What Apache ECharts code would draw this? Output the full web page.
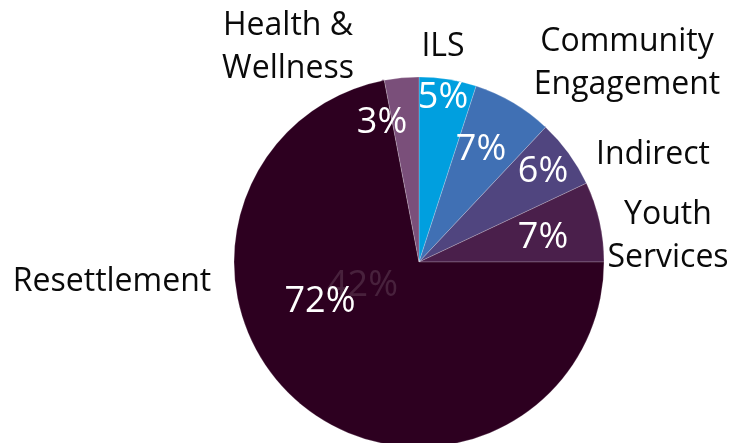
<!DOCTYPE html>
<html>
<head>
<meta charset="utf-8">
<script src="https://cdn.jsdelivr.net/npm/echarts@6/dist/echarts.min.js"></script>
<style>
  html, body { margin: 0; padding: 0; background: #fff; }
  #chart { width: 747px; height: 443px; }
</style>
</head>
<body>
<div id="chart"></div>
<script>
// slice data, clockwise from 12 o'clock
var names = ["ILS", "Community\nEngagement", "Indirect", "Youth\nServices", "Resettlement", "Health &\nWellness"];
var values = [5, 7, 6, 7, 72, 3];
var colors = ["#009FDF", "#4070B4", "#50457F", "#4A1F4B", "#2D0020", "#7A4F7A"];

// label spots (x, y)
var namePos = [[443, 47], [627, 63], [653, 155], [668, 236], [112, 282], [288, 47]];
var pctPos = [[443, 98], [481, 150], [543, 172], [543, 238], [320, 302], [382, 123]];

var myChart = echarts.init(document.getElementById("chart"));

var pieData = names.map(function (n, i) {
  return { name: n, value: values[i], itemStyle: { color: colors[i] } };
});

var option = {
  animation: false,
  textStyle: { fontFamily: "Open Sans" },
  graphic: [
    {
      type: "text",
      left: 327,
      top: 268,
      z: 100,
      style: {
        text: "42%",
        fontFamily: "Open Sans",
        fontSize: 36,
        fill: "rgba(255,255,255,0.13)"
      }
    }
  ],
  series: [
    {
      type: "pie",
      center: [419, 262],
      radius: [0, 185],
      startAngle: 90,
      clockwise: true,
      data: pieData,
      itemStyle: { borderColor: "rgba(255,255,255,0.35)", borderWidth: 0.6 },
      label: {
        show: true,
        position: "inside",
        formatter: "{c}%",
        color: "#fff",
        fontSize: 36,
        fontFamily: "Open Sans"
      },
      labelLayout: function (p) {
        var pos = pctPos[p.dataIndex];
        return { x: pos[0], y: pos[1], align: "center", verticalAlign: "middle" };
      },
      emphasis: { disabled: true }
    },
    {
      type: "pie",
      center: [419, 262],
      radius: [0, 185],
      startAngle: 90,
      silent: true,
      data: pieData.map(function (d) {
        return { name: d.name, value: d.value, itemStyle: { color: "rgba(0,0,0,0)" } };
      }),
      label: {
        show: true,
        position: "outside",
        formatter: "{b}",
        color: "#0a0a0a",
        fontSize: 32,
        lineHeight: 43,
        overflow: "none",
        fontFamily: "Open Sans"
      },
      labelLine: { show: false },
      labelLayout: function (p) {
        var pos = namePos[p.dataIndex];
        return { x: pos[0], y: pos[1], align: "center", verticalAlign: "middle" };
      }
    }
  ]
};

option && myChart.setOption(option);
</script>
</body>
</html>
